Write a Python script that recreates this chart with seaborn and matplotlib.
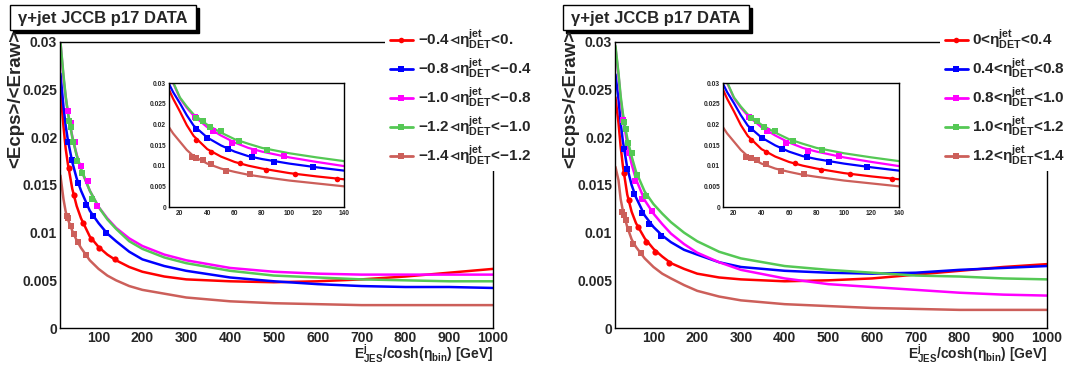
import matplotlib
matplotlib.use("Agg")
import matplotlib.pyplot as plt
import seaborn as sns
from matplotlib.lines import Line2D
from matplotlib.patches import Rectangle
from matplotlib.ticker import MultipleLocator, FormatStrFormatter

# ---------------------------------------------------------------
# data
# ---------------------------------------------------------------
colors = ["#ff0000", "#0000ff", "#ff00ff", "#55c855", "#cc5f5a"]
markers = ["o", "s", "s", "s", "s"]

left_labels = ["−0.4", "−0.8", "−1.0", "−1.2", "−1.4"]
left_upper = ["0.", "−0.4", "−0.8", "−1.0", "−1.2"]
right_labels = ["0", "0.4", "0.8", "1.0", "1.2"]
right_upper = ["0.4", "0.8", "1.0", "1.2", "1.4"]

# fitted curves on the main plots (sampled along x)
x_main = [13, 20, 25, 30, 40, 50, 60, 80, 100, 120, 140, 170, 200, 250, 300,
          400, 500, 600, 700, 800, 900, 1000]

lm_red = [0.0250, 0.0211, 0.0188, 0.0172, 0.0146, 0.0128, 0.0115, 0.0096, 0.0085, 0.0077, 0.0071,
          0.0064, 0.0059, 0.0054, 0.0051, 0.0049, 0.0048, 0.0049, 0.0051, 0.0054, 0.0058, 0.0062]
lm_blue = [0.0267, 0.0232, 0.0212, 0.0197, 0.0174, 0.0157, 0.0144, 0.0123, 0.0110, 0.0099, 0.0091,
           0.0080, 0.0072, 0.0065, 0.0060, 0.0053, 0.0049, 0.0046, 0.0044, 0.0043, 0.0043, 0.0042]
lm_mag = [0.0300, 0.0262, 0.0242, 0.0226, 0.0201, 0.0182, 0.0166, 0.0144, 0.0127, 0.0115, 0.0105,
          0.0094, 0.0086, 0.0077, 0.0071, 0.0063, 0.0059, 0.0057, 0.0056, 0.0056, 0.0056, 0.0056]
lm_green = [0.0300, 0.0265, 0.0243, 0.0226, 0.0200, 0.0181, 0.0167, 0.0144, 0.0127, 0.0114, 0.0104,
            0.0091, 0.0083, 0.0074, 0.0068, 0.0060, 0.0055, 0.0053, 0.0051, 0.0050, 0.0049, 0.0049]
lm_sal = [0.0160, 0.0135, 0.0122, 0.0114, 0.0102, 0.0092, 0.0084, 0.0071, 0.0062, 0.0055, 0.0050,
          0.0044, 0.0040, 0.0036, 0.0032, 0.0028, 0.0026, 0.0025, 0.0024, 0.0024, 0.0024, 0.0024]

rm_red = [0.0242, 0.0215, 0.0190, 0.0170, 0.0140, 0.0122, 0.0110, 0.0094, 0.0083, 0.0075, 0.0068,
          0.0062, 0.0057, 0.0053, 0.0051, 0.0049, 0.0050, 0.0052, 0.0056, 0.0060, 0.0064, 0.0067]
rm_blue = [0.0266, 0.0240, 0.0215, 0.0196, 0.0168, 0.0150, 0.0137, 0.0118, 0.0106, 0.0097, 0.0090,
           0.0082, 0.0077, 0.0069, 0.0064, 0.0060, 0.0058, 0.0057, 0.0058, 0.0061, 0.0063, 0.0065]
rm_mag = [0.0294, 0.0265, 0.0240, 0.0222, 0.0193, 0.0172, 0.0156, 0.0134, 0.0120, 0.0109, 0.0099,
          0.0088, 0.0079, 0.0069, 0.0061, 0.0052, 0.0046, 0.0043, 0.0040, 0.0037, 0.0035, 0.0034]
rm_green = [0.0296, 0.0267, 0.0243, 0.0225, 0.0199, 0.0180, 0.0164, 0.0143, 0.0130, 0.0120, 0.0111,
            0.0100, 0.0091, 0.0080, 0.0073, 0.0065, 0.0061, 0.0058, 0.0055, 0.0054, 0.0052, 0.0051]
rm_sal = [0.0169, 0.0155, 0.0135, 0.0123, 0.0106, 0.0093, 0.0085, 0.0073, 0.0064, 0.0057, 0.0052,
          0.0045, 0.0039, 0.0033, 0.0029, 0.0025, 0.0023, 0.0021, 0.0020, 0.0019, 0.0019, 0.0019]

# fitted curves on the insets (same in both panels)
x_inset = [12, 15, 20, 25, 30, 40, 50, 60, 70, 80, 100, 120, 140]
in_red = [0.0284, 0.0262, 0.0231, 0.0198, 0.0172, 0.0140, 0.0122, 0.0109, 0.0100, 0.0093, 0.0082, 0.0074, 0.0067]
in_blue = [0.0298, 0.0278, 0.0251, 0.0222, 0.0197, 0.0168, 0.0149, 0.0134, 0.0123, 0.0116, 0.0105, 0.0096, 0.0088]
in_mag = [0.0320, 0.0300, 0.0263, 0.0240, 0.0221, 0.0193, 0.0173, 0.0156, 0.0143, 0.0134, 0.0120, 0.0109, 0.0099]
in_green = [0.0325, 0.0302, 0.0265, 0.0243, 0.0224, 0.0199, 0.0180, 0.0164, 0.0153, 0.0143, 0.0130, 0.0120, 0.0111]
in_sal = [0.0193, 0.0178, 0.0158, 0.0138, 0.0123, 0.0105, 0.0093, 0.0085, 0.0078, 0.0073, 0.0064, 0.0057, 0.0050]

# measured points, left main plot
lp_red_x = [32, 44, 64, 83, 102, 137]
lp_red_y = [0.0168, 0.0140, 0.0110, 0.0093, 0.0084, 0.0072]
lp_blue_x = [31, 39, 53, 71, 88, 116]
lp_blue_y = [0.0195, 0.0176, 0.0152, 0.0129, 0.0117, 0.0100]
lp_mag_x = [31, 36, 46, 60, 75, 97]
lp_mag_y = [0.0228, 0.0215, 0.0195, 0.0170, 0.0154, 0.0128]
lp_green_x = [32, 36, 42, 50, 63, 84]
lp_green_y = [0.0217, 0.0211, 0.0195, 0.0175, 0.0163, 0.0135]
lp_sal_x = [29, 31, 36, 44, 52, 71]
lp_sal_y = [0.0117, 0.0115, 0.0107, 0.0099, 0.0090, 0.0077]

# measured points, right main plot and both insets
rp_red_x = [32, 43, 64, 83, 104, 135]
rp_red_y = [0.0163, 0.0134, 0.0106, 0.0090, 0.0080, 0.0068]
rp_blue_x = [32, 40, 55, 73, 89, 117]
rp_blue_y = [0.0188, 0.0167, 0.0141, 0.0121, 0.0109, 0.0097]
rp_mag_x = [31, 44, 58, 74, 96]
rp_mag_y = [0.0218, 0.0184, 0.0154, 0.0135, 0.0123]
rp_green_x = [32, 37, 42, 50, 63, 84]
rp_green_y = [0.0216, 0.0209, 0.0194, 0.0184, 0.0160, 0.0138]
rp_sal_x = [29, 32, 37, 43, 54, 71]
rp_sal_y = [0.0122, 0.0119, 0.0113, 0.0104, 0.0088, 0.0079]

# ---------------------------------------------------------------
# style
# ---------------------------------------------------------------
sns.set_style("white")
plt.rcParams["font.family"] = ["Liberation Sans", "DejaVu Sans"]
plt.rcParams["font.weight"] = "bold"
plt.rcParams["mathtext.fontset"] = "custom"
plt.rcParams["mathtext.rm"] = "Liberation Sans:bold"
plt.rcParams["mathtext.it"] = "Liberation Sans:bold"
plt.rcParams["mathtext.bf"] = "Liberation Sans:bold"
plt.rcParams["mathtext.default"] = "rm"
plt.rcParams["mathtext.fallback"] = "stix"

W, H = 1083, 365
fig = plt.figure(figsize=(W / 100, H / 100), dpi=100)


def fx(p):
    return p / W


def fy(p):
    return 1 - p / H


def box(x0, x1, y0, y1):
    return [fx(x0), fy(y1), (x1 - x0) / W, (y1 - y0) / H]


def style_axes(ax, xmin, xmax, xmaj, xmin_step, fs, ylen, xlen):
    ax.set_xlim(xmin, xmax)
    ax.set_ylim(0, 0.03)
    ax.xaxis.set_major_locator(MultipleLocator(xmaj))
    ax.xaxis.set_minor_locator(MultipleLocator(xmin_step))
    ax.yaxis.set_major_locator(MultipleLocator(0.005))
    ax.yaxis.set_minor_locator(MultipleLocator(0.001))
    ax.yaxis.set_major_formatter(FormatStrFormatter("%g"))
    ax.tick_params(direction="in", top=False, right=False, labelsize=fs, pad=2, width=0.8)
    ax.tick_params(axis="y", which="major", length=ylen)
    ax.tick_params(axis="y", which="minor", length=ylen * 0.5, width=0.8)
    ax.tick_params(axis="x", which="major", length=xlen)
    ax.tick_params(axis="x", which="minor", length=xlen * 0.5, width=0.8)
    for s in ax.spines.values():
        s.set_linewidth(1)
        s.set_color("black")
    ax.set_xlabel("")
    ax.set_ylabel("")


def draw_panel(ax, xs, curves, points, lw, ms):
    for i, (cy, (px, py)) in enumerate(zip(curves, points)):
        sns.lineplot(x=xs, y=cy, ax=ax, color=colors[i], linewidth=lw, sort=False, estimator=None)
        sns.scatterplot(x=px, y=py, ax=ax, color=colors[i], marker=markers[i],
                        s=ms, linewidth=0, zorder=3)


left_curves = [lm_red, lm_blue, lm_mag, lm_green, lm_sal]
right_curves = [rm_red, rm_blue, rm_mag, rm_green, rm_sal]
inset_curves = [in_red, in_blue, in_mag, in_green, in_sal]
left_points = [(lp_red_x, lp_red_y), (lp_blue_x, lp_blue_y), (lp_mag_x, lp_mag_y),
               (lp_green_x, lp_green_y), (lp_sal_x, lp_sal_y)]
right_points = [(rp_red_x, rp_red_y), (rp_blue_x, rp_blue_y), (rp_mag_x, rp_mag_y),
                (rp_green_x, rp_green_y), (rp_sal_x, rp_sal_y)]

panels = [
    dict(main=(60, 493), inset=(169, 344), curves=left_curves, points=left_points,
         title_x=10, ylab_x=16, leg_x=385, leg_w=160, lo=left_labels, hi=left_upper,
         sep="$⊲$"),
    dict(main=(615, 1047), inset=(723, 899), curves=right_curves, points=right_points,
         title_x=563, ylab_x=571, leg_x=940, leg_w=143, lo=right_labels, hi=right_upper, sep="<"),
]

for p in panels:
    x0, x1 = p["main"]
    ax = fig.add_axes(box(x0, x1, 42, 328))
    draw_panel(ax, x_main, p["curves"], p["points"], 1.8, 20)
    style_axes(ax, 12, 1000, 100, 20, 10, 9, 6)
    ax.set_xticks(range(100, 1001, 100))

    i0, i1 = p["inset"]
    axi = fig.add_axes(box(i0, i1, 83, 207))
    draw_panel(axi, x_inset, inset_curves, right_points, 1.6, 16)
    style_axes(axi, 12, 140, 20, 5, 4.8, 4, 4)
    axi.set_xticks(range(20, 141, 20))

    # title box with shadow
    tx = p["title_x"]
    fig.patches.append(Rectangle((fx(tx + 3), fy(33)), 186 / W, 25 / H, transform=fig.transFigure,
                                 facecolor="black", edgecolor="black", zorder=3))
    fig.patches.append(Rectangle((fx(tx), fy(30)), 186 / W, 25 / H, transform=fig.transFigure,
                                 facecolor="white", edgecolor="black", linewidth=1, zorder=4))
    fig.text(fx(tx + 93), fy(18), "γ+jet JCCB p17 DATA", ha="center", va="center",
             fontsize=12, fontweight="bold", zorder=5)

    # axis titles
    fig.text(fx(p["ylab_x"]), fy(30), "<Ecps>/<Eraw>", rotation=90, ha="center", va="top",
             fontsize=13.5, fontweight="bold")
    fig.text(fx(x1), fy(359.5), r"E$^{j}_{JES}$/cosh($\eta_{bin}$) [GeV]", ha="right", va="baseline",
             fontsize=10, fontweight="bold")

    # white area behind the legend, hides the top right corner of the frame
    fig.patches.append(Rectangle((fx(p["leg_x"]), fy(171)), p["leg_w"] / W, 146 / H,
                                 transform=fig.transFigure, facecolor="white",
                                 edgecolor="none", zorder=3))
    handles = [Line2D([], [], color=c, lw=2, marker=m, markersize=4, markeredgewidth=0)
               for c, m in zip(colors, markers)]
    labels = [lo + p["sep"] + r"$\eta^{jet}_{DET}$" + "<" + hi for lo, hi in zip(p["lo"], p["hi"])]
    leg = fig.legend(handles, labels, loc="upper left",
                     bbox_to_anchor=(fx(p["leg_x"] + 5), fy(28)), frameon=False,
                     prop={"size": 11, "weight": "bold"}, handlelength=1.5,
                     handletextpad=0.3, labelspacing=0.37, borderpad=0, borderaxespad=0)
    leg.set_zorder(6)

fig.savefig("out.png", dpi=100)
